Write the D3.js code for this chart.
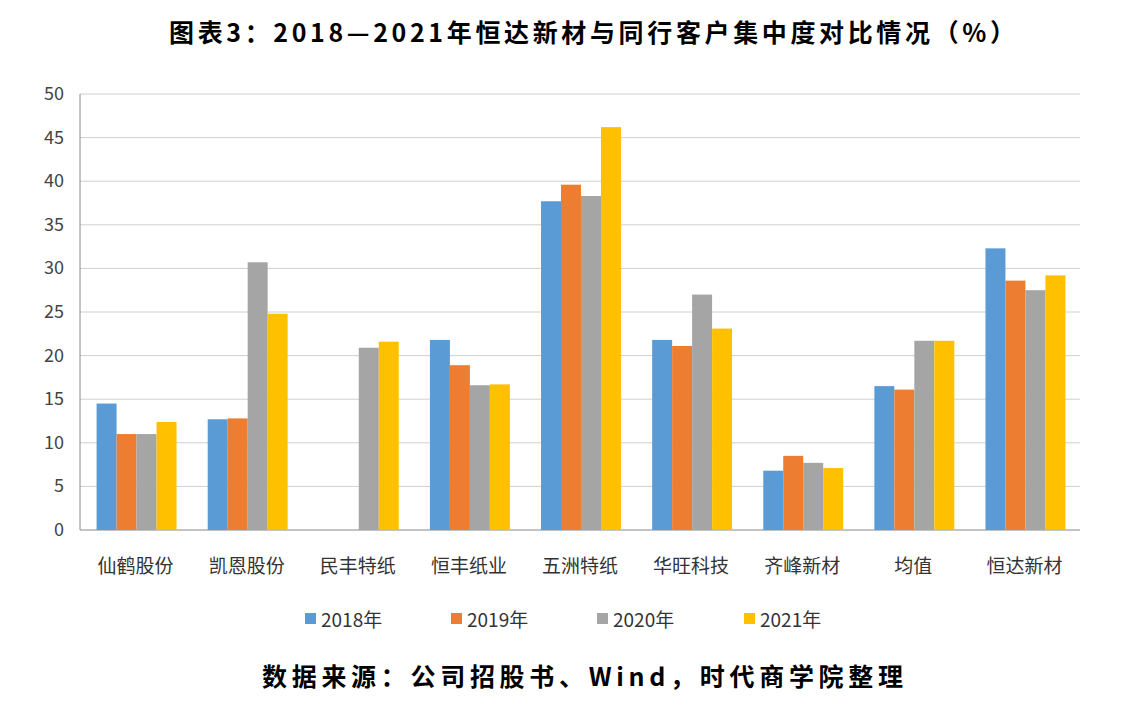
<!DOCTYPE html>
<html><head><meta charset="utf-8">
<script src="https://cdn.jsdelivr.net/npm/d3@7"></script>
<style>body{margin:0;background:#fff}text{font-family:"Noto Sans CJK SC","Liberation Sans",sans-serif}</style>
</head><body><svg id="c" width="1126" height="706"></svg>
<script>
const categories=["仙鹤股份","凯恩股份","民丰特纸","恒丰纸业","五洲特纸","华旺科技","齐峰新材","均值","恒达新材"];
const seriesNames=["2018年","2019年","2020年","2021年"];
const s2018=[14.5,12.7,null,21.8,37.7,21.8,6.8,16.5,32.3];
const s2019=[11.0,12.8,null,18.9,39.6,21.1,8.5,16.1,28.6];
const s2020=[11.0,30.7,20.9,16.6,38.3,27.0,7.7,21.7,27.5];
const s2021=[12.4,24.8,21.6,16.7,46.2,23.1,7.1,21.7,29.2];
const yTicks=[0,5,10,15,20,25,30,35,40,45,50];
const colors=["#5B9BD5","#ED7D31","#A5A5A5","#FFC000"];
const series=[s2018,s2019,s2020,s2021];
const svg=d3.select("#c");
const L=80,R=1080,T=94,B=530;
const x=d3.scaleBand().domain(categories).range([L,R]);
const xi=d3.scaleBand().domain(d3.range(4)).range([0,x.bandwidth()]).paddingOuter(0.78).paddingInner(0);
const y=d3.scaleLinear().domain([0,50]).range([B,T]);
svg.append("g").selectAll("line").data(yTicks).join("line")
 .attr("x1",L).attr("x2",R).attr("y1",d=>y(d)).attr("y2",d=>y(d))
 .attr("stroke",d=>d===0?"#888":"#d0d0d0").attr("stroke-width",1);
svg.append("line").attr("x1",L).attr("x2",L).attr("y1",T).attr("y2",B).attr("stroke","#888");
svg.append("g").selectAll("text").data(yTicks).join("text")
 .attr("x",L-16).attr("y",d=>y(d)+6).attr("text-anchor","end").attr("font-size",18).attr("fill","#444").text(d=>d);
series.forEach((s,k)=>{
 svg.append("g").selectAll("rect").data(categories.map((c,i)=>({c,v:s[i]})).filter(d=>d.v!=null)).join("rect")
  .attr("x",d=>x(d.c)+xi(k)+1).attr("width",xi.bandwidth()).attr("y",d=>y(d.v)).attr("height",d=>B-y(d.v)).attr("fill",colors[k]);
});
svg.append("g").selectAll("text").data(categories).join("text")
 .attr("x",d=>x(d)+x.bandwidth()/2).attr("y",573).attr("text-anchor","middle").attr("font-size",19).attr("fill","#333").text(d=>d);
const lx=[305,451,597,744];
seriesNames.forEach((n,k)=>{
 svg.append("rect").attr("x",lx[k]).attr("y",613).attr("width",11).attr("height",11).attr("fill",colors[k]);
 svg.append("text").attr("x",lx[k]+16).attr("y",627).attr("font-size",19).attr("fill","#333").text(n);
});
svg.append("text").attr("x",169).attr("y",42).attr("font-size",25).attr("font-weight","bold").attr("textLength",846).attr("lengthAdjust","spacing").text("图表3：2018—2021年恒达新材与同行客户集中度对比情况（%）");
svg.append("text").attr("x",262).attr("y",686).attr("font-size",25).attr("font-weight","bold").attr("textLength",641).attr("lengthAdjust","spacing").text("数据来源：公司招股书、Wind，时代商学院整理");
</script></body></html>
